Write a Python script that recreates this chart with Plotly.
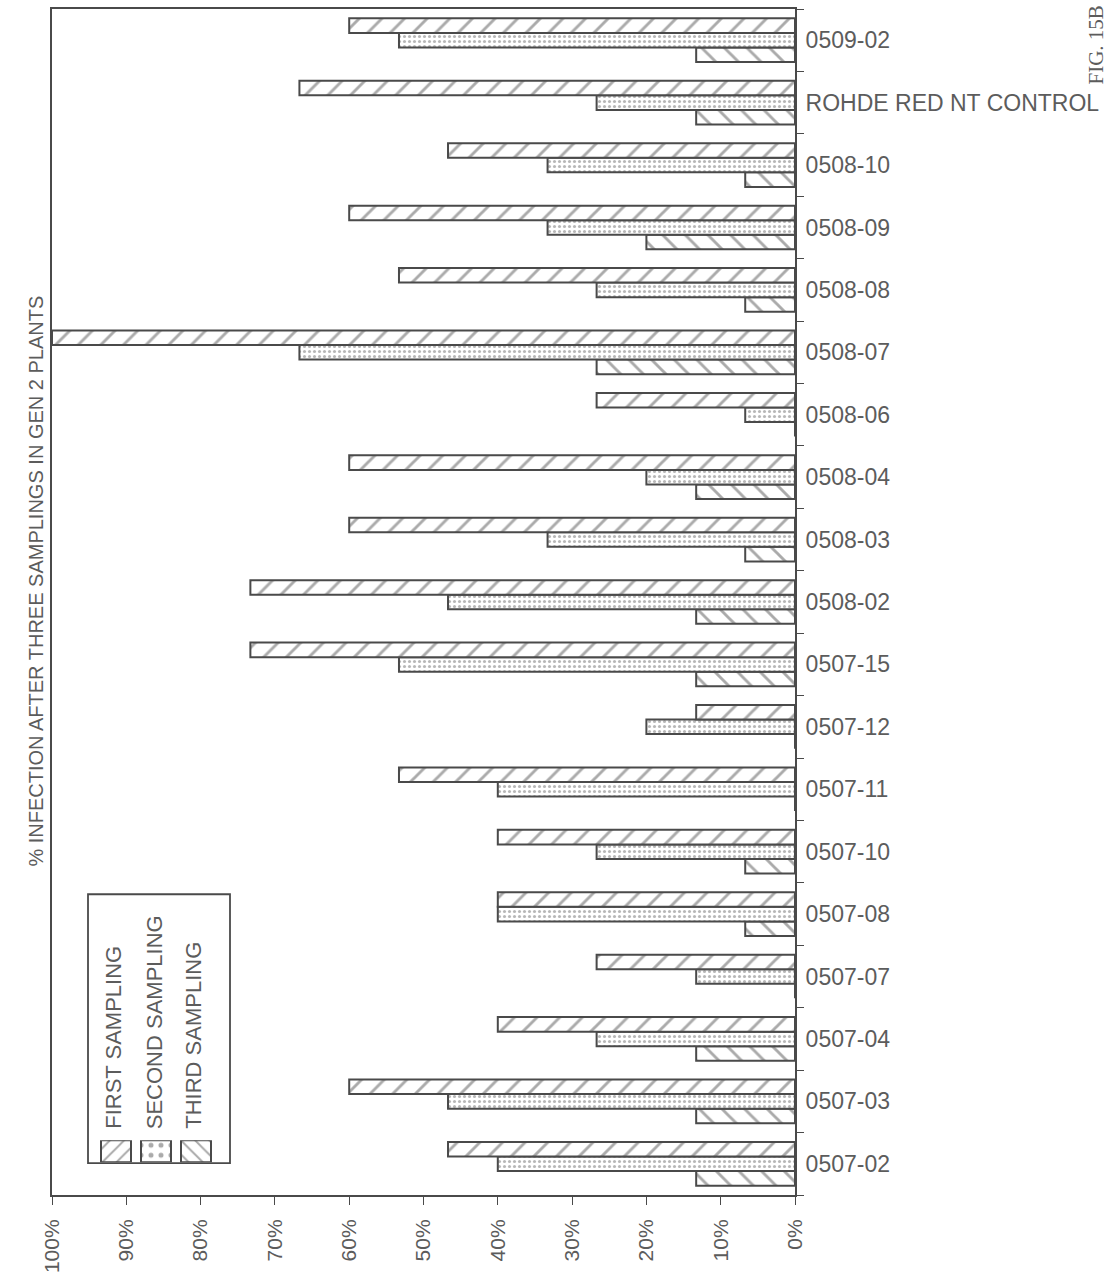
import plotly.graph_objects as go

# Lines (bottom to top on the chart)
lines = [
    "0507-02", "0507-03", "0507-04", "0507-07", "0507-08", "0507-10",
    "0507-11", "0507-12", "0507-15", "0508-02", "0508-03", "0508-04",
    "0508-06", "0508-07", "0508-08", "0508-09", "0508-10",
    "ROHDE RED NT CONTROL", "0509-02",
]

# % infection per sampling
first_sampling = [46.7, 60, 40, 26.7, 40, 40, 53.3, 13.3, 73.3, 73.3, 60, 60,
                  26.7, 100, 53.3, 60, 46.7, 66.7, 60]
second_sampling = [40, 46.7, 26.7, 13.3, 40, 26.7, 40, 20, 53.3, 46.7, 33.3, 20,
                   6.7, 66.7, 26.7, 33.3, 33.3, 26.7, 53.3]
third_sampling = [13.3, 13.3, 13.3, 0, 6.7, 6.7, 0, 0, 13.3, 13.3, 6.7, 13.3,
                  0, 26.7, 6.7, 20, 6.7, 13.3, 13.3]

series_names = ["FIRST SAMPLING", "SECOND SAMPLING", "THIRD SAMPLING"]
series_patterns = ["/", ".", "\\"]

pct_ticks = list(range(0, 101, 10))
pct_labels = [f"{v}%" for v in pct_ticks]

title_text = "% INFECTION AFTER THREE SAMPLINGS IN GEN 2 PLANTS"
fig_label = "FIG. 15B"

W, H = 1114, 1280
L, R, T, B = 52, 795, 7, 1198
INK = "#4a4a4a"
TXT = "#5c5c5c"
FONT = "Liberation Sans, Arial, sans-serif"


def px_x(x):
    return (x - L) / (R - L)


def px_y(y):
    return (B - y) / (B - T)


def pattern_for(shape):
    if shape == ".":
        return dict(shape=".", fgcolor="#707070", bgcolor="white", size=5, solidity=0.3)
    return dict(shape=shape, fgcolor="#555555", bgcolor="white", size=16, solidity=0.18)


fig = go.Figure()

# grouped horizontal bars; added in reverse so the first sampling sits on top of each group
all_series = [first_sampling, second_sampling, third_sampling]
for name, vals, pat in reversed(list(zip(series_names, all_series, series_patterns))):
    fig.add_trace(go.Bar(
        y=lines, x=vals, orientation="h", name=name,
        marker=dict(color="white", line=dict(color=INK, width=2), pattern=pattern_for(pat)),
        showlegend=False,
    ))

# legend swatches on a small auxiliary axis pair
fig.add_trace(go.Bar(
    x=[0, 1, 2], y=[1, 1, 1], xaxis="x2", yaxis="y2", width=0.75,
    marker=dict(
        color="white", line=dict(color=INK, width=2),
        pattern=dict(shape=series_patterns, fgcolor="#555555", bgcolor="white",
                     size=10, solidity=0.2),
    ),
    showlegend=False, hoverinfo="skip",
))

fig.update_layout(
    width=W, height=H,
    margin=dict(l=L, r=W - R, t=T, b=H - B),
    paper_bgcolor="white", plot_bgcolor="white",
    barmode="group", bargap=0.3, bargroupgap=0,
    font=dict(family=FONT, color=TXT),
    xaxis=dict(
        range=[100, 0], tickvals=pct_ticks, ticktext=pct_labels, tickangle=-90,
        ticks="outside", ticklen=8, tickcolor=INK, tickwidth=1.2,
        showline=True, linecolor=INK, linewidth=2, mirror=True,
        showgrid=False, zeroline=False, ticklabelstandoff=6,
        tickfont=dict(size=21, color=TXT, family=FONT),
    ),
    yaxis=dict(
        type="category", categoryorder="array", categoryarray=lines, side="right",
        ticks="outside", tickson="boundaries", ticklen=7, tickcolor=INK, tickwidth=1.2,
        showline=True, linecolor=INK, linewidth=2, mirror=True,
        showgrid=False, zeroline=False, ticklabelstandoff=4,
        tickfont=dict(size=23, color=TXT, family=FONT),
    ),
    xaxis2=dict(domain=[px_x(96), px_x(216)], range=[-0.5, 2.5], anchor="y2", visible=False),
    yaxis2=dict(domain=[px_y(1165), px_y(1143)], range=[0, 1], anchor="x2", visible=False),
)

# legend frame
fig.add_shape(type="rect", xref="paper", yref="paper",
              x0=px_x(88), x1=px_x(230), y0=px_y(1166), y1=px_y(896),
              line=dict(color=INK, width=1.8), fillcolor="rgba(0,0,0,0)")

# legend labels, rotated to read upward
for i, name in enumerate(series_names):
    fig.add_annotation(
        text=name, xref="paper", yref="paper",
        x=px_x(114 + 40 * i), y=px_y(1134), xanchor="center", yanchor="bottom",
        textangle=-90, showarrow=False,
        font=dict(size=22, color=TXT, family=FONT),
    )

# value-axis title
fig.add_annotation(
    text=title_text, xref="paper", yref="paper",
    x=px_x(36), y=px_y(582), xanchor="center", yanchor="middle",
    textangle=-90, showarrow=False,
    font=dict(size=20, color=TXT, family=FONT),
)

# figure label, kept above the top category label
fig.add_annotation(
    text=fig_label, xref="paper", yref="paper",
    x=px_x(1096), y=px_y(2), xanchor="center", yanchor="top",
    textangle=-90, showarrow=False,
    font=dict(size=21, color=TXT, family="Liberation Serif, serif"),
)

fig.write_html("out.html")
